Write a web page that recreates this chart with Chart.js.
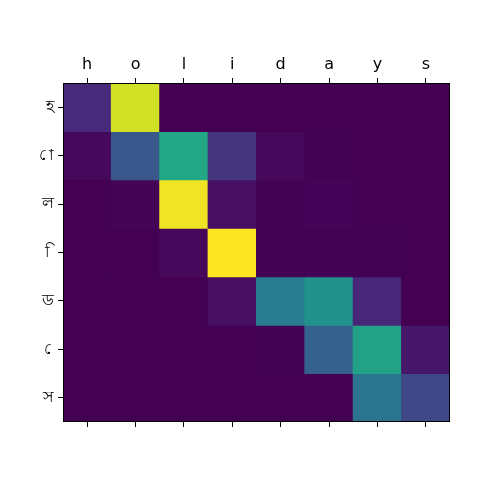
<!DOCTYPE html>
<html>
<head>
<meta charset="utf-8">
<script src="https://cdn.jsdelivr.net/npm/chart.js@4"></script>
<style>
  body { margin: 0; background: #fff; }
  #wrap { width: 500px; height: 500px; }
</style>
</head>
<body>
<div id="wrap"><canvas id="heat"></canvas></div>
<script>
// tokens on each axis
const cols = ['h', 'o', 'l', 'i', 'd', 'a', 'y', 's'];
const rows = ['হ', 'ো', 'ল', 'ি', 'ড', 'ে', 'স'];

// attention weights, one array per row
const rowH  = [0.12, 0.93, 0.00, 0.00, 0.00, 0.00, 0.00, 0.00];
const rowO  = [0.02, 0.27, 0.60, 0.15, 0.02, 0.004, 0.00, 0.00];
const rowL  = [0.00, 0.01, 0.98, 0.04, 0.004, 0.008, 0.00, 0.00];
const rowI  = [0.00, 0.00, 0.02, 1.00, 0.004, 0.004, 0.003, 0.00];
const rowD  = [0.00, 0.00, 0.00, 0.04, 0.42, 0.50, 0.11, 0.00];
const rowE  = [0.00, 0.00, 0.00, 0.00, 0.003, 0.31, 0.57, 0.06];
const rowS  = [0.00, 0.00, 0.00, 0.00, 0.00, 0.00, 0.39, 0.22];
const matrix = [rowH, rowO, rowL, rowI, rowD, rowE, rowS];

// viridis colormap stops (0, 0.1, ... 1)
const viridis = ['#440154', '#482475', '#414487', '#355f8d', '#2a788e', '#21918c',
                 '#22a884', '#44bf70', '#7ad151', '#bddf26', '#fde725'];

function hexToRgb(h) {
  return [parseInt(h.slice(1, 3), 16), parseInt(h.slice(3, 5), 16), parseInt(h.slice(5, 7), 16)];
}

function viridisColor(v) {
  v = Math.max(0, Math.min(1, v));
  const p = v * (viridis.length - 1);
  const i = Math.min(Math.floor(p), viridis.length - 2);
  const t = p - i;
  const a = hexToRgb(viridis[i]), b = hexToRgb(viridis[i + 1]);
  const c = a.map((x, k) => Math.round(x + (b[k] - x) * t));
  return 'rgb(' + c.join(',') + ')';
}

// combining vowel signs get a no-break space as base so no dotted circle shows
function bareLabel(s) {
  return /^[\u09BE-\u09CC]/.test(s) ? '\u00a0' + s : s;
}

const vmax = Math.max(...matrix.flat());

// one floating-bar dataset per row, each bar spans [r, r+1]
const datasets = matrix.map((row, r) => ({
  label: rows[r],
  data: cols.map(() => [r, r + 1]),
  backgroundColor: row.map(v => viridisColor(v / vmax)),
  borderWidth: 0,
  inflateAmount: 0.5,
  grouped: false,
  barPercentage: 1,
  categoryPercentage: 1,
  xAxisID: 'x'
}));

const frame = {
  id: 'frame',
  afterDraw(chart) {
    const a = chart.chartArea, ctx = chart.ctx;
    ctx.save();
    ctx.strokeStyle = '#000';
    ctx.lineWidth = 1;
    ctx.strokeRect(Math.round(a.left) + 0.5, Math.round(a.top) + 0.5,
                   Math.round(a.right - a.left) - 1, Math.round(a.bottom - a.top) - 1);
    ctx.restore();
  }
};

const tickGrid = { display: true, drawOnChartArea: false, drawTicks: true, tickLength: 5, color: '#000', offset: false };
const font = { family: 'DejaVu Sans', size: 16 };

new Chart(document.getElementById('heat').getContext('2d'), {
  type: 'bar',
  data: { labels: cols, datasets: datasets },
  options: {
    responsive: true,
    maintainAspectRatio: false,
    animation: false,
    layout: { padding: { left: 0, top: 0, right: 50, bottom: 0 } },
    plugins: { legend: { display: false }, tooltip: { enabled: false } },
    scales: {
      x: {
        position: 'top',
        grid: tickGrid,
        border: { display: false },
        ticks: { color: '#000', font: font, padding: 4 },
        afterFit(s) { s.height = 83; }
      },
      x2: {
        type: 'category',
        labels: cols,
        position: 'bottom',
        grid: tickGrid,
        border: { display: false },
        ticks: { display: false },
        afterFit(s) { s.height = 78; }
      },
      y: {
        min: 0,
        max: rows.length,
        reverse: true,
        grid: tickGrid,
        border: { display: false },
        afterBuildTicks(s) { s.ticks = rows.map((_, i) => ({ value: i + 0.5 })); },
        ticks: {
          color: '#000',
          font: font,
          padding: 4,
          autoSkip: false,
          callback: (v, i) => bareLabel(rows[i])
        },
        afterFit(s) { s.width = 63; }
      }
    }
  },
  plugins: [frame]
});
</script>
</body>
</html>
